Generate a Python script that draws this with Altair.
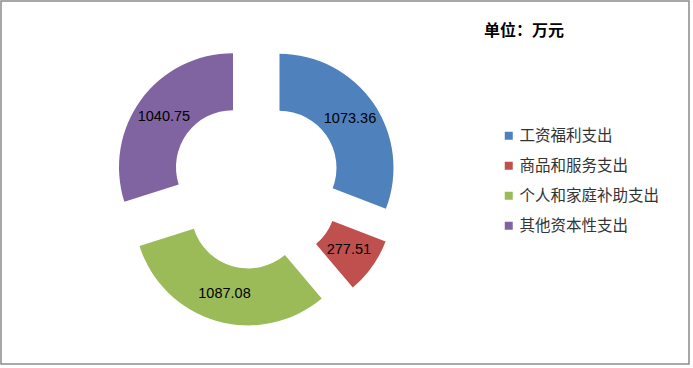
import altair as alt
import pandas as pd

categories = ["工资福利支出", "商品和服务支出", "个人和家庭补助支出", "其他资本性支出"]
values = [1073.36, 277.51, 1087.08, 1040.75]
colors = ["#4F81BD", "#C0504D", "#9BBB59", "#8064A2"]
labels = ["1073.36", "277.51", "1087.08", "1040.75"]

df = pd.DataFrame({"cat": categories, "value": values, "label": labels,
                   "idx": list(range(len(categories)))})

CX, CY, EXPLODE = 255, 183, 28.5
R_OUT, R_IN, R_LABEL = 114, 57, 85.5

base = alt.Chart(df).transform_joinaggregate(
    total="sum(value)"
).transform_window(
    cum="sum(value)", sort=[alt.SortField("idx")], frame=[None, 0]
).transform_calculate(
    t1="2*PI*datum.cum/datum.total",
    t0="2*PI*(datum.cum-datum.value)/datum.total",
).transform_calculate(
    mid="(datum.t0+datum.t1)/2"
).transform_calculate(
    px=f"{CX}+{EXPLODE}*sin(datum.mid)",
    py=f"{CY}-{EXPLODE}*cos(datum.mid)",
    lx=f"{CX}+{EXPLODE}*sin(datum.mid)+{R_LABEL}*sin(datum.mid)",
    ly=f"{CY}-{EXPLODE}*cos(datum.mid)-{R_LABEL}*cos(datum.mid)",
)

arcs = base.mark_arc(outerRadius=R_OUT, innerRadius=R_IN).encode(
    theta=alt.Theta("t0:Q", scale=None),
    theta2="t1:Q",
    x=alt.X("px:Q", scale=None),
    y=alt.Y("py:Q", scale=None),
    color=alt.Color(
        "cat:N",
        scale=alt.Scale(domain=categories, range=colors),
        sort=categories,
        legend=alt.Legend(
            title=None, orient="none", legendX=500, legendY=127,
            symbolType="square", symbolSize=64, symbolStrokeWidth=0,
            labelFont="Noto Sans CJK SC", labelFontSize=15.5, labelColor="#333333",
            rowPadding=13, labelOffset=3,
        ),
    ),
)

texts = base.mark_text(font="Liberation Sans", fontSize=14.5, color="#000000").encode(
    x=alt.X("lx:Q", scale=None),
    y=alt.Y("ly:Q", scale=None),
    text="label:N",
)

title = alt.Chart(pd.DataFrame({"t": ["单位：万元"]})).mark_text(
    font="Noto Sans CJK SC", fontSize=16, fontWeight="bold", align="left",
    baseline="middle", color="#000000"
).encode(x=alt.value(483), y=alt.value(30), text="t:N")

chart = alt.layer(arcs, texts, title).properties(
    width=688, height=363,
    autosize=alt.AutoSizeParams(type="none"),
    padding={"left": 1, "top": 1, "right": 4, "bottom": 4},
).configure_view(stroke="#8c8c8c", strokeWidth=1.5)

chart.save("out.html", embed_options={"renderer": "svg", "actions": False})
